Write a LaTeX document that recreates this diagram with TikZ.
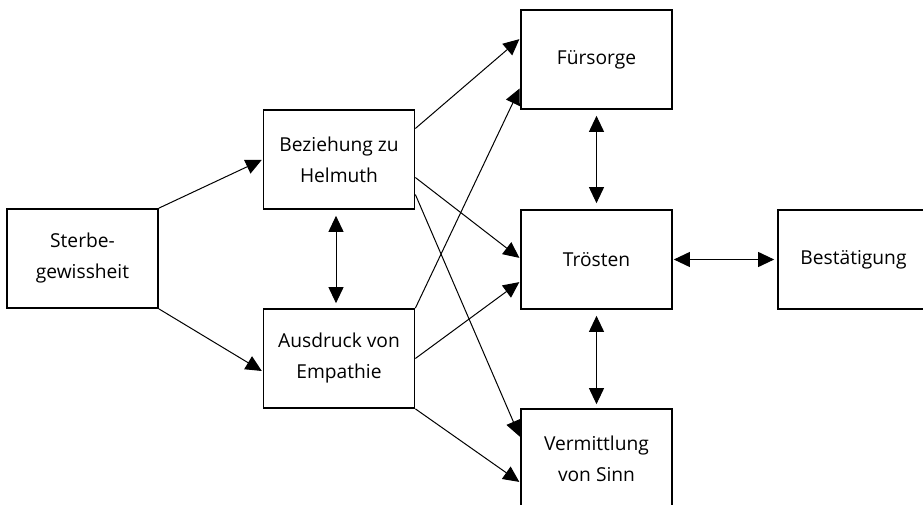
\documentclass[tikz,border=0pt]{standalone}
\usepackage{fontspec}
\setmainfont{Open Sans}
\usetikzlibrary{arrows.meta}
\begin{document}
\begin{tikzpicture}[x=1pt,y=-1pt,
  box/.style={draw,line width=1.7pt,minimum width=151pt,minimum height=99pt,inner sep=0pt,align=center,
    font=\fontsize{19.2}{31}\selectfont},
  arr/.style={line width=1pt,-{Triangle[length=16pt,width=15pt]},shorten >=1pt},
  darr/.style={line width=1pt,{Triangle[length=16pt,width=15pt]}-{Triangle[length=16pt,width=15pt]}}]
\useasboundingbox (0,0) rectangle (923,505);
\clip (0,0) rectangle (923,505);
\node[box] (ster) at (82.5,258.5) {Sterbe-\\gewissheit};
\node[box] (bez) at (339,159.5) {Beziehung zu\\Helmuth};
\node[box] (aus) at (339,358.5) {Ausdruck von\\Empathie};
\node[box] (fur) at (596.5,59.5) {Fürsorge};
\node[box] (tro) at (596.5,259.5) {Trösten};
\node[box] (best) at (853.5,259.5) {Bestätigung};
\node[box] (verm) at (596.5,458.5) {Vermittlung\\von Sinn};
\draw[arr] (ster.north east) -- (bez.west);
\draw[arr] (ster.south east) -- ([yshift=-13pt]aus.west);
\draw[darr,shorten <=6pt,shorten >=5pt] ([xshift=-3pt]bez.south) -- ([xshift=-3pt]aus.north);
\draw[arr] ([yshift=31pt]bez.east) -- ([yshift=21pt]fur.west);
\draw[arr] (aus.north east) -- ([yshift=-28pt]fur.west);
\draw[arr] ([yshift=-18pt]bez.east) -- ([yshift=1pt]tro.west);
\draw[arr] ([yshift=-35pt]bez.east) -- ([yshift=21pt]verm.west);
\draw[arr] (aus.east) -- ([yshift=-22pt]tro.west);
\draw[arr] (aus.south east) -- ([yshift=-24pt]verm.west);
\draw[darr,shorten <=6pt,shorten >=6pt] (fur.south) -- (tro.north);
\draw[darr,shorten <=6pt,shorten >=4pt] (tro.south) -- (verm.north);
\draw[darr,shorten <=1pt,shorten >=3pt] (tro.east) -- (best.west);
\end{tikzpicture}
\end{document}
